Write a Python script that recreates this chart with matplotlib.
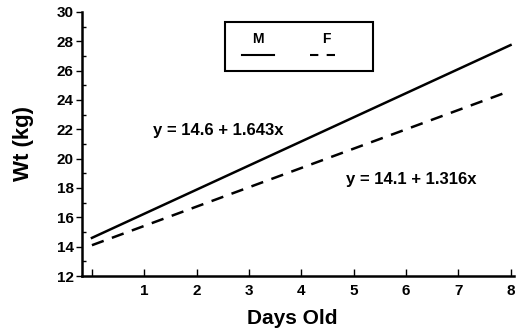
import matplotlib.pyplot as plt
import matplotlib.patches as patches
import numpy as np

plt.rcParams['font.family'] = ['Liberation Sans', 'DejaVu Sans']
plt.rcParams['font.weight'] = 'bold'

# regression fits
days = np.array([0, 8])
male_int, male_slope = 14.6, 1.643
female_int, female_slope = 14.1, 1.316
x_ticks = [0, 1, 2, 3, 4, 5, 6, 7, 8]
x_labels = ['', '1', '2', '3', '4', '5', '6', '7', '8']
y_ticks = [12, 14, 16, 18, 20, 22, 24, 26, 28, 30]

fig = plt.figure(figsize=(5.17, 3.28), dpi=100)
ax = fig.add_axes([0.1586, 0.1585, 0.835, 0.805])

ax.plot(days, male_int + male_slope * days, 'k-', lw=1.8)
ax.plot(days, female_int + female_slope * days, 'k', lw=1.8, dashes=(5, 3.5))

ax.set_xlim(-0.19, 8.06)
ax.set_ylim(12, 30)
ax.spines['top'].set_visible(False)
ax.spines['right'].set_visible(False)
ax.spines['left'].set_linewidth(1.8)
ax.spines['bottom'].set_linewidth(1.8)

ax.set_xticks(x_ticks)
ax.set_xticklabels(x_labels)
ax.set_yticks(y_ticks)
ax.set_yticks(np.arange(13, 30, 2), minor=True)
ax.tick_params(axis='x', direction='in', length=5, width=1, labelsize=11, pad=6)
ax.tick_params(axis='y', which='major', direction='out', length=4, width=1, labelsize=11, pad=2)
ax.tick_params(axis='y', which='minor', direction='in', length=3, width=1)
for lbl in ax.get_xticklabels() + ax.get_yticklabels():
    lbl.set_fontweight('bold')

ax.set_xlabel('Days Old', fontsize=15, fontweight='bold')
ax.set_ylabel('Wt (kg)', fontsize=16, fontweight='bold', labelpad=16)
ax.xaxis.set_label_coords(0.487, -0.125)

ax.text(1.17, 21.9, 'y = 14.6 + 1.643x', fontsize=12, fontweight='bold', va='center')
ax.text(4.85, 18.55, 'y = 14.1 + 1.316x', fontsize=12, fontweight='bold', va='center')

# legend box drawn by hand (labels sit above their line samples)
tr = ax.transAxes
ax.add_patch(patches.Rectangle((0.332, 0.776), 0.342, 0.185, transform=tr,
                               fill=False, lw=1.5, ec='black', clip_on=False))
ax.text(0.408, 0.896, 'M', transform=tr, fontsize=10, fontweight='bold', ha='center', va='center')
ax.text(0.567, 0.896, 'F', transform=tr, fontsize=10, fontweight='bold', ha='center', va='center')
ax.plot([0.37, 0.445], [0.836, 0.836], 'k-', lw=1.5, transform=tr)
ax.plot([0.528, 0.605], [0.836, 0.836], 'k', lw=1.5, dashes=(4, 4), transform=tr)

fig.savefig('out.png', dpi=100)
